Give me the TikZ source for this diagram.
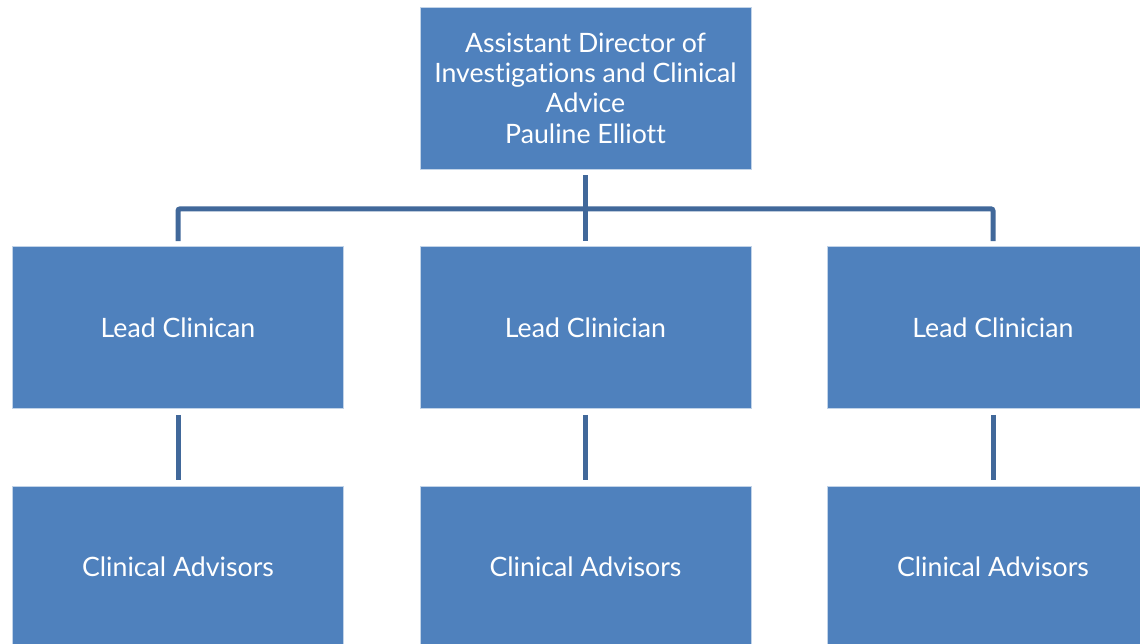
\documentclass[tikz,border=0pt]{standalone}
\usepackage{fontspec}
\setmainfont[Ligatures=NoCommon]{Lato}
\usetikzlibrary{positioning,calc}
\definecolor{boxblue}{HTML}{4F81BD}
\definecolor{linkblue}{HTML}{41689A}

\begin{document}
\begin{tikzpicture}[x=1pt, y=-1pt, semithick, node distance=239.5pt]
        \tikzstyle{box}=[rectangle, fill=boxblue, draw=white!65!boxblue, line width=0.8pt,
            minimum width=331pt, minimum height=162pt, inner sep=0pt, text=white,
            align=center, font=\fontsize{26.7}{30.3}\selectfont]
        \tikzstyle{link}=[draw=linkblue, line width=5pt, rounded corners=2pt]
        \clip (0,0) rectangle (1140,644);
        \fill[white] (0,0) rectangle (1140,644);
        \node[box]    (Dir) at (585.5,88)   {Assistant Director of\\Investigations and Clinical\\Advice\\Pauline Elliott};
        \node[box]    (Lead2)[below of=Dir]     {Lead Clinician};
        \node[box]    (Lead1)[left of=Lead2, node distance=407.5pt]  {Lead Clinican};
        \node[box]    (Lead3)[right of=Lead2, node distance=407.5pt] {Lead Clinician};
        \node[box]    (Adv1)[below of=Lead1]    {Clinical Advisors};
        \node[box]    (Adv2)[below of=Lead2]    {Clinical Advisors};
        \node[box]    (Adv3)[below of=Lead3]    {Clinical Advisors};
        \coordinate (bus) at ($(Dir.south)+(0,39.5)$);
        \draw[link, shorten <=6pt] (Dir.south) -- (bus);
        \draw[link, shorten >=5pt] (bus) -- (Lead2.north);
        \draw[link, shorten >=5pt] (bus) -| (Lead1.north);
        \draw[link, shorten >=5pt] (bus) -| (Lead3.north);
        \draw[link, shorten <=6pt, shorten >=6pt] (Lead1) -- (Adv1);
        \draw[link, shorten <=6pt, shorten >=6pt] (Lead2) -- (Adv2);
        \draw[link, shorten <=6pt, shorten >=6pt] (Lead3) -- (Adv3);
\end{tikzpicture}
\end{document}
